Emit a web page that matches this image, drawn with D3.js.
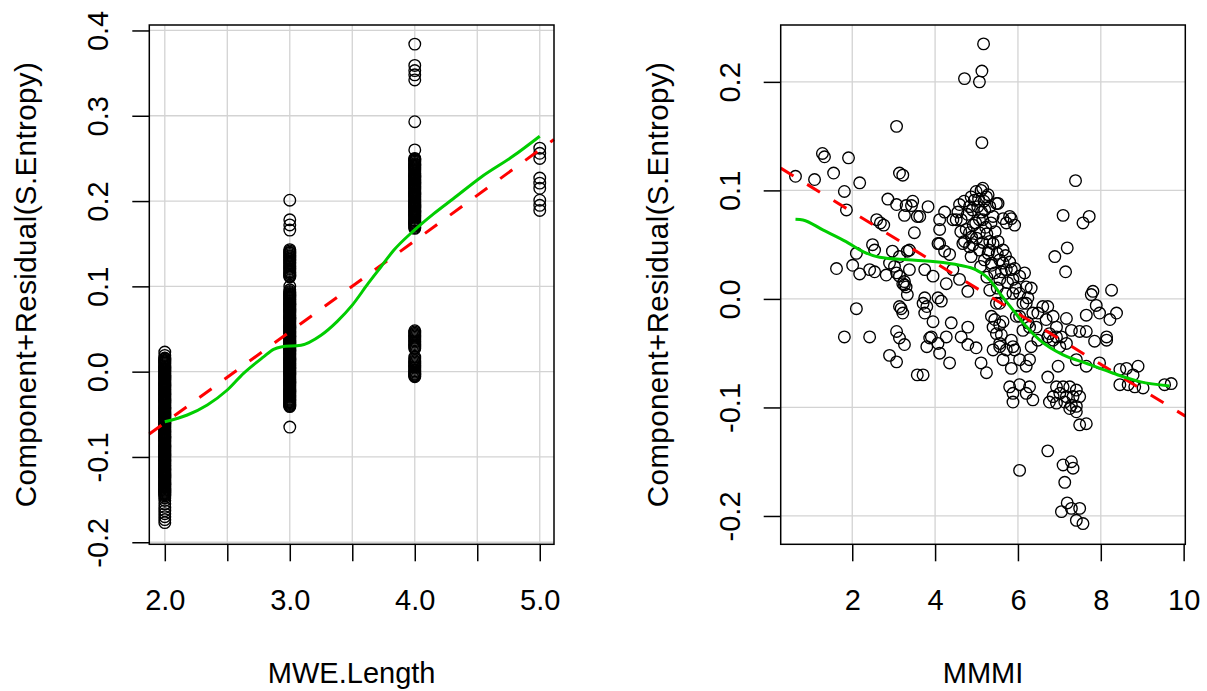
<!DOCTYPE html>
<html>
<head>
<meta charset="utf-8">
<script src="https://cdn.jsdelivr.net/npm/d3@7"></script>
<style>
  body { margin: 0; background: #fff; }
  text { font-family: "Liberation Sans", Arial, sans-serif; fill: #000; }
</style>
</head>
<body>
<div id="chart"></div>
<script>
// ----- Data: MWE.Length panel -------
const mweTicks = [2, 2.5, 3, 3.5, 4, 4.5, 5];
const mweTickLabels = ["2.0", "", "3.0", "", "4.0", "", "5.0"];
const leftYTicks = [-0.2, -0.1, 0, 0.1, 0.2, 0.3, 0.4];
const leftYLabels = ["-0.2", "-0.1", "0.0", "0.1", "0.2", "0.3", "0.4"];

const mweLevels = [2, 3, 4, 5];
const resid2 = [0.023, 0.019, 0.016, 0.0148, 0.0135, 0.0125, 0.0115, 0.0105, 0.0095, 0.0082, 0.007, 0.006,
  0.005, 0.004, 0.003, 0.002, 0.0008, -0.0004, -0.0015, -0.0025, -0.0035, -0.0045, -0.0055, -0.0065, -0.0075,
  -0.0087, -0.0098, -0.011, -0.012, -0.013, -0.014, -0.015, -0.016, -0.017, -0.018, -0.019, -0.020, -0.021,
  -0.022, -0.0232, -0.0243, -0.0254, -0.0265, -0.0275, -0.0285, -0.0295, -0.0305, -0.0315, -0.0325, -0.0335,
  -0.0345, -0.0357, -0.0368, -0.0379, -0.039, -0.040, -0.041, -0.042, -0.043, -0.044, -0.045, -0.046, -0.047,
  -0.048, -0.049, -0.050, -0.051, -0.0521, -0.0532, -0.0543, -0.0555, -0.0565, -0.0575, -0.0585, -0.0595,
  -0.0605, -0.0615, -0.0625, -0.0635, -0.0645, -0.0655, -0.0667, -0.0678, -0.0689, -0.070, -0.071, -0.072,
  -0.073, -0.074, -0.075, -0.076, -0.077, -0.078, -0.079, -0.080, -0.081, -0.082, -0.0832, -0.0843, -0.0854,
  -0.0865, -0.0875, -0.0885, -0.0895, -0.0905, -0.0915, -0.0925, -0.0935, -0.0945, -0.0957, -0.0968, -0.0979,
  -0.099, -0.100, -0.101, -0.102, -0.103, -0.104, -0.105, -0.106, -0.107, -0.108, -0.109, -0.110, -0.111,
  -0.1122, -0.1133, -0.1144, -0.1155, -0.1165, -0.1175, -0.1185, -0.1195, -0.1205, -0.1215, -0.1225, -0.1235,
  -0.1247, -0.1258, -0.1269, -0.128, -0.129, -0.130, -0.131, -0.132, -0.133, -0.134, -0.135, -0.136, -0.137,
  -0.138, -0.139, -0.140, -0.1412, -0.1423, -0.1434, -0.1445, -0.146, -0.148, -0.151, -0.155, -0.159, -0.163,
  -0.1665, -0.170, -0.1735, -0.177];
const resid3 = [0.201, 0.178, 0.172, 0.166, 0.143, 0.1415, 0.140, 0.139, 0.1375, 0.136, 0.135, 0.1335, 0.132,
  0.131, 0.1295, 0.128, 0.127, 0.1255, 0.124, 0.1225, 0.121, 0.12, 0.1185, 0.117, 0.116, 0.1145, 0.113, 0.112,
  0.111, 0.100, 0.096, 0.094, 0.0928, 0.0918, 0.0907, 0.0895, 0.0885, 0.0875, 0.0865, 0.0855, 0.0845, 0.0835,
  0.0823, 0.0812, 0.080, 0.079, 0.078, 0.077, 0.076, 0.075, 0.074, 0.073, 0.072, 0.071, 0.070, 0.0688, 0.0677,
  0.0665, 0.0655, 0.0645, 0.0635, 0.0625, 0.0615, 0.0605, 0.0595, 0.0585, 0.0573, 0.0562, 0.055, 0.054, 0.053,
  0.052, 0.051, 0.050, 0.049, 0.048, 0.047, 0.046, 0.045, 0.0438, 0.0427, 0.0415, 0.0405, 0.0395, 0.0385,
  0.0375, 0.0365, 0.0355, 0.0345, 0.0335, 0.0323, 0.0312, 0.030, 0.029, 0.028, 0.027, 0.026, 0.025, 0.024,
  0.023, 0.022, 0.021, 0.020, 0.0188, 0.0177, 0.0165, 0.0155, 0.0145, 0.0135, 0.0125, 0.0115, 0.0105, 0.0095,
  0.0085, 0.0073, 0.0062, 0.005, 0.004, 0.003, 0.002, 0.001, 0.000, -0.001, -0.002, -0.003, -0.004, -0.005,
  -0.0062, -0.0073, -0.0085, -0.0095, -0.0105, -0.0115, -0.0125, -0.0135, -0.0145, -0.0155, -0.0165, -0.0177,
  -0.0188, -0.020, -0.021, -0.022, -0.023, -0.024, -0.025, -0.026, -0.027, -0.028, -0.029, -0.030, -0.0312,
  -0.0323, -0.0335, -0.0345, -0.0355, -0.0365, -0.0375, -0.0385, -0.0395, -0.040, -0.041, -0.065];
const resid4 = [0.384, 0.359, 0.353, 0.348, 0.342, 0.293, 0.260, 0.250, 0.249, 0.248, 0.2468, 0.2455, 0.244,
  0.243, 0.242, 0.241, 0.240, 0.239, 0.238, 0.237, 0.2358, 0.2345, 0.233, 0.232, 0.231, 0.230, 0.229, 0.228,
  0.227, 0.226, 0.2248, 0.2235, 0.222, 0.221, 0.220, 0.219, 0.218, 0.217, 0.216, 0.215, 0.2138, 0.2125, 0.211,
  0.210, 0.209, 0.208, 0.207, 0.206, 0.205, 0.204, 0.2028, 0.2015, 0.200, 0.199, 0.198, 0.197, 0.196, 0.195,
  0.194, 0.193, 0.1918, 0.1905, 0.189, 0.188, 0.187, 0.186, 0.185, 0.184, 0.183, 0.182, 0.1808, 0.1795, 0.178,
  0.177, 0.176, 0.175, 0.174, 0.173, 0.1718, 0.1705, 0.169, 0.168,
  0.048, 0.0465, 0.045, 0.0435, 0.042, 0.0405, 0.039, 0.0375, 0.036, 0.0345, 0.033, 0.0315, 0.030, 0.0285,
  0.027, 0.017, 0.015, 0.013, 0.0115, 0.010, 0.0085, 0.007, 0.0055, 0.004, 0.0025, 0.001, -0.0005, -0.002,
  -0.003, -0.004, -0.005, -0.006];
const resid5 = [0.262, 0.256, 0.250, 0.227, 0.221, 0.215, 0.201, 0.195, 0.189];

const mweFit = [[1.876, -0.0731], [5.114, 0.2722]];
const mweSmooth = [[2.0, -0.0587], [2.18, -0.0508], [2.34, -0.039], [2.50, -0.0215], [2.63, -0.002],
  [2.79, 0.0173], [2.87, 0.0262], [2.93, 0.029], [3.09, 0.031], [3.25, 0.0427], [3.38, 0.059], [3.50, 0.078],
  [3.63, 0.104], [3.73, 0.123], [3.83, 0.142], [3.99, 0.165], [4.15, 0.185], [4.31, 0.203], [4.53, 0.228],
  [4.79, 0.253], [5.0, 0.276]];

// ----- Data: MMMI panel -------
const mmmiTicks = [2, 4, 6, 8, 10];
const mmmiTickLabels = ["2", "4", "6", "8", "10"];
const rightYTicks = [-0.2, -0.1, 0, 0.1, 0.2];
const rightYLabels = ["-0.2", "-0.1", "0.0", "0.1", "0.2"];

const mmmiPoints = [
  [5.17, 0.235], [5.13, 0.210], [4.71, 0.203], [5.07, 0.200], [5.13, 0.144], [3.07, 0.159],
  [1.28, 0.134], [1.33, 0.131], [1.91, 0.130], [0.63, 0.113], [1.09, 0.110], [1.55, 0.116], [2.18, 0.107],
  [1.81, 0.099], [1.86, 0.082], [3.14, 0.116], [3.22, 0.114],
  [2.86, 0.092], [3.07, 0.087], [3.30, 0.086], [3.46, 0.090], [3.26, 0.077], [3.57, 0.076], [3.43, 0.086], [3.83, 0.085],
  [2.59, 0.073], [2.76, 0.068], [3.50, 0.061], [2.68, 0.070],
  [2.49, 0.050], [2.54, 0.045], [2.10, 0.042], [2.97, 0.044], [3.33, 0.044], [3.38, 0.045],
  [2.01, 0.031], [2.18, 0.023], [1.62, 0.028], [2.54, 0.025], [2.42, 0.027], [2.82, 0.022], [2.90, 0.033], [3.02, 0.030],
  [3.22, 0.014], [3.26, 0.013], [3.33, 0.004], [3.30, 0.011],
  [2.10, -0.009], [3.18, -0.009], [3.22, -0.013],
  [1.81, -0.035], [2.42, -0.035], [3.07, -0.030], [3.14, -0.036], [3.26, -0.042], [2.90, -0.052], [3.07, -0.058],
  [3.57, -0.070], [3.71, -0.070],
  [3.07, 0.024], [3.26, 0.016], [3.14, -0.007], [3.71, -0.004], [3.80, -0.007], [4.07, 0.001], [4.15, -0.002], [3.75, -0.013],
  [3.87, -0.036], [3.80, -0.044], [4.07, -0.041], [4.11, -0.050], [4.35, -0.059], [4.27, -0.035], [4.39, -0.022],
  [4.63, -0.035], [4.79, -0.026], [4.79, -0.042], [4.99, -0.045],
  [5.11, -0.059], [5.24, -0.068], [5.40, -0.047], [5.56, -0.044], [5.72, -0.047], [5.88, -0.044], [5.64, -0.056],
  [5.84, -0.064], [6.04, -0.056], [6.20, -0.062], [6.28, -0.056], [6.32, -0.044],
  [5.80, -0.081], [5.88, -0.087], [5.88, -0.095], [6.04, -0.079], [6.28, -0.081], [6.36, -0.093], [6.20, -0.087],
  [5.32, 0.008], [5.56, -0.004], [5.44, -0.019], [5.40, -0.026], [5.64, -0.021], [5.60, -0.033], [5.56, -0.041],
  [5.84, -0.038], [5.92, -0.047], [6.12, -0.029], [6.24, -0.022], [5.96, -0.016], [6.04, 0.005], [6.20, -0.004],
  [6.36, -0.013], [6.44, -0.026], [6.60, -0.007], [6.72, -0.007], [6.85, -0.016], [6.68, -0.019], [6.93, -0.026],
  [7.17, -0.018], [7.05, -0.035], [6.76, -0.032], [6.48, -0.038],
  [3.63, 0.076],
  [4.23, 0.080], [4.11, 0.073], [4.43, 0.073], [4.63, 0.073], [4.87, 0.094], [4.99, 0.099], [5.15, 0.102], [5.24, 0.094],
  [4.83, 0.085], [5.03, 0.085], [5.32, 0.085], [5.52, 0.088], [5.40, 0.076], [5.64, 0.074], [5.80, 0.076], [5.92, 0.068],
  [5.72, 0.070], [5.15, 0.073], [4.75, 0.064], [5.07, 0.061], [4.11, 0.064],
  [4.11, 0.051], [4.23, 0.044], [4.35, 0.041], [4.71, 0.053], [4.91, 0.050], [5.07, 0.045], [5.32, 0.053], [5.52, 0.053],
  [5.64, 0.045], [4.87, 0.039], [5.19, 0.036], [5.36, 0.031], [5.56, 0.036], [5.80, 0.034], [5.72, 0.027], [5.92, 0.028],
  [6.04, 0.021], [6.16, 0.024], [5.44, 0.024], [5.56, 0.018],
  [3.14, 0.039], [3.38, 0.027], [3.14, 0.021],
  [3.75, 0.027], [3.95, 0.021], [4.27, 0.014], [4.59, 0.018], [4.43, 0.027], [4.79, 0.007], [3.75, 0.001], [3.95, -0.021], [3.91, -0.035],
  [5.48, -0.004], [5.36, -0.016], [5.56, -0.024], [5.48, -0.032],
  [5.88, 0.005], [6.12, -0.004], [6.32, 0.010], [6.04, -0.016], [6.28, -0.026], [6.48, -0.013], [6.93, -0.035], [6.72, -0.035],
  [6.89, 0.039],
  [7.39, 0.109], [7.09, 0.077], [7.57, 0.070], [7.72, 0.076], [7.19, 0.047], [7.15, 0.025], [8.26, 0.008], [7.81, 0.007],
  [4.59, 0.087], [5.11, 0.100], [5.48, 0.088], [4.51, 0.073], [5.07, 0.073], [4.83, 0.061], [5.84, 0.074], [4.07, 0.051],
  [4.67, 0.051], [4.83, 0.048], [5.40, 0.051], [5.36, 0.033], [5.64, 0.033], [5.84, 0.027], [5.88, 0.018], [6.20, 0.011],
  [6.24, 0.001], [4.95, 0.091], [5.20, 0.082], [4.98, 0.070], [5.25, 0.060], [5.00, 0.056], [5.28, 0.042], [5.10, 0.030],
  [4.55, 0.080], [4.70, 0.090], [4.78, 0.078], [4.90, 0.082], [5.05, 0.092], [5.18, 0.090], [5.28, 0.096], [5.12, 0.080],
  [4.92, 0.068], [5.22, 0.066], [5.35, 0.070], [4.62, 0.062], [4.88, 0.057], [5.15, 0.052], [5.45, 0.062], [5.30, 0.045],
  [5.50, 0.042], [5.70, 0.040], [5.60, 0.025], [5.75, 0.015], [5.95, 0.010], [5.70, 0.005], [5.50, 0.010], [5.25, 0.020],
  [7.77, 0.004], [7.89, -0.006], [7.97, -0.013], [7.65, -0.015], [8.38, -0.013], [8.22, -0.019],
  [7.29, -0.029], [7.49, -0.030], [7.65, -0.030], [7.85, -0.039], [8.14, -0.035], [8.14, -0.038],
  [6.85, -0.038], [7.01, -0.044], [7.17, -0.041],
  [7.41, -0.056], [7.65, -0.062], [7.97, -0.059],
  [6.97, -0.062], [6.72, -0.072],
  [6.93, -0.081], [7.09, -0.081], [7.25, -0.081], [7.41, -0.084], [6.85, -0.090], [7.01, -0.087], [7.17, -0.090],
  [7.33, -0.090], [7.49, -0.090], [6.76, -0.095], [6.93, -0.096], [7.13, -0.095], [7.29, -0.098], [7.41, -0.099],
  [7.41, -0.104], [7.25, -0.101],
  [8.46, -0.065], [8.62, -0.064], [8.90, -0.062], [8.78, -0.070], [8.46, -0.079], [8.66, -0.079], [8.82, -0.081],
  [9.02, -0.082], [9.54, -0.079], [9.70, -0.078],
  [7.49, -0.116], [7.65, -0.115],
  [6.72, -0.140], [6.04, -0.158], [7.09, -0.153], [7.29, -0.150], [7.33, -0.156], [7.13, -0.169],
  [7.19, -0.188], [7.05, -0.196], [7.29, -0.193], [7.49, -0.193], [7.41, -0.204], [7.57, -0.207]
];

const mmmiFit = [[0.273, 0.1205], [10.04, -0.108]];
const mmmiSmooth = [[0.63, 0.0735], [0.81, 0.0728], [1.29, 0.0636], [1.85, 0.0528], [2.26, 0.0436], [2.66, 0.0384],
  [3.34, 0.036], [3.95, 0.0344], [4.59, 0.031], [4.99, 0.0267], [5.32, 0.0175], [5.56, 0.0053], [5.88, -0.0101],
  [6.20, -0.0255], [6.52, -0.0378], [7.09, -0.0516], [7.65, -0.0593], [8.30, -0.0685], [8.94, -0.0762], [9.66, -0.0802]];

const yTitle = "Component+Residual(S.Entropy)";

// ----- SVG -------
const svg = d3.select("#chart").append("svg").attr("width", 1207).attr("height", 691);

function drawPanel(p) {
  const x = d3.scaleLinear().domain(p.xDomain).range([p.left, p.right]);
  const y = d3.scaleLinear().domain(p.yDomain).range([p.bottom, p.top]);
  const g = svg.append("g");

  // grid
  g.selectAll(".vgrid").data(p.xGrid).join("line")
    .attr("x1", d => x(d)).attr("x2", d => x(d))
    .attr("y1", p.top).attr("y2", p.bottom)
    .attr("stroke", "#d3d3d3").attr("stroke-width", 1.3);
  g.selectAll(".hgrid").data(p.yTicks).join("line")
    .attr("x1", p.left).attr("x2", p.right)
    .attr("y1", d => y(d)).attr("y2", d => y(d))
    .attr("stroke", "#d3d3d3").attr("stroke-width", 1.3);

  // points
  g.append("g").selectAll("circle").data(p.points).join("circle")
    .attr("cx", d => x(d[0]))
    .attr("cy", d => y(d[1]))
    .attr("r", 5.8)
    .attr("fill", "none")
    .attr("stroke", "#000")
    .attr("stroke-width", 1.35);

  const line = d3.line().x(d => x(d[0])).y(d => y(d[1]));

  // linear fit (red dashed)
  g.append("path").datum(p.fit)
    .attr("d", line)
    .attr("fill", "none")
    .attr("stroke", "#ff0000")
    .attr("stroke-width", 3)
    .attr("stroke-dasharray", "15,16");

  // smoother (green)
  g.append("path").datum(p.smooth)
    .attr("d", line.curve(d3.curveMonotoneX))
    .attr("fill", "none")
    .attr("stroke", "#00cd00")
    .attr("stroke-width", 3);

  // box
  g.append("rect")
    .attr("x", p.left).attr("y", p.top)
    .attr("width", p.right - p.left).attr("height", p.bottom - p.top)
    .attr("fill", "none").attr("stroke", "#000").attr("stroke-width", 1.5);

  // x axis
  const gx = g.append("g").attr("transform", `translate(0,${p.bottom})`)
    .call(d3.axisBottom(x).tickValues(p.xTicks).tickFormat((d, i) => p.xLabels[i]).tickSize(17));
  gx.select(".domain").remove();
  gx.selectAll("line").attr("stroke-width", 1.5);
  gx.selectAll("text").attr("y", 66).attr("dy", null).style("font-size", "29px")
    .style("font-family", '"Liberation Sans", Arial, sans-serif');

  // y axis
  const gy = g.append("g").attr("transform", `translate(${p.left},0)`)
    .call(d3.axisLeft(y).tickValues(p.yTicks).tickFormat((d, i) => p.yLabels[i]).tickSize(17));
  gy.select(".domain").remove();
  gy.selectAll("line").attr("stroke-width", 1.5);
  gy.selectAll("text").attr("x", 0).attr("y", -41).attr("dy", null)
    .attr("transform", "rotate(-90)").attr("text-anchor", "middle")
    .style("font-size", "29px").style("font-family", '"Liberation Sans", Arial, sans-serif');

  // titles
  g.append("text")
    .attr("x", (p.left + p.right) / 2).attr("y", p.bottom + 139)
    .attr("text-anchor", "middle").style("font-size", "29px")
    .text(p.xTitle);
  g.append("text")
    .attr("transform", `translate(${p.left - 113},${(p.top + p.bottom) / 2}) rotate(-90)`)
    .attr("text-anchor", "middle").style("font-size", "29.5px")
    .attr("textLength", 445).attr("lengthAdjust", "spacing")
    .text(yTitle);
}

// ----- Left: MWE.Length -------
drawPanel({
  left: 149.3, right: 554, top: 25, bottom: 544.3,
  xDomain: [1.876, 5.114], yDomain: [-0.2024, 0.4064],
  xTicks: mweTicks, xLabels: mweTickLabels, xGrid: mweTicks,
  yTicks: leftYTicks, yLabels: leftYLabels,
  points: mweLevels.flatMap((v, i) => [resid2, resid3, resid4, resid5][i].map(r => [v, r])),
  fit: mweFit, smooth: mweSmooth, xTitle: "MWE.Length"
});

// ----- Right: MMMI -------
drawPanel({
  left: 780.7, right: 1185.3, top: 25, bottom: 544.3,
  xDomain: [0.273, 10.04], yDomain: [-0.2261, 0.2524],
  xTicks: mmmiTicks, xLabels: mmmiTickLabels, xGrid: [2, 4, 6, 8],
  yTicks: rightYTicks, yLabels: rightYLabels,
  points: mmmiPoints,
  fit: mmmiFit, smooth: mmmiSmooth, xTitle: "MMMI"
});
</script>
</body>
</html>
